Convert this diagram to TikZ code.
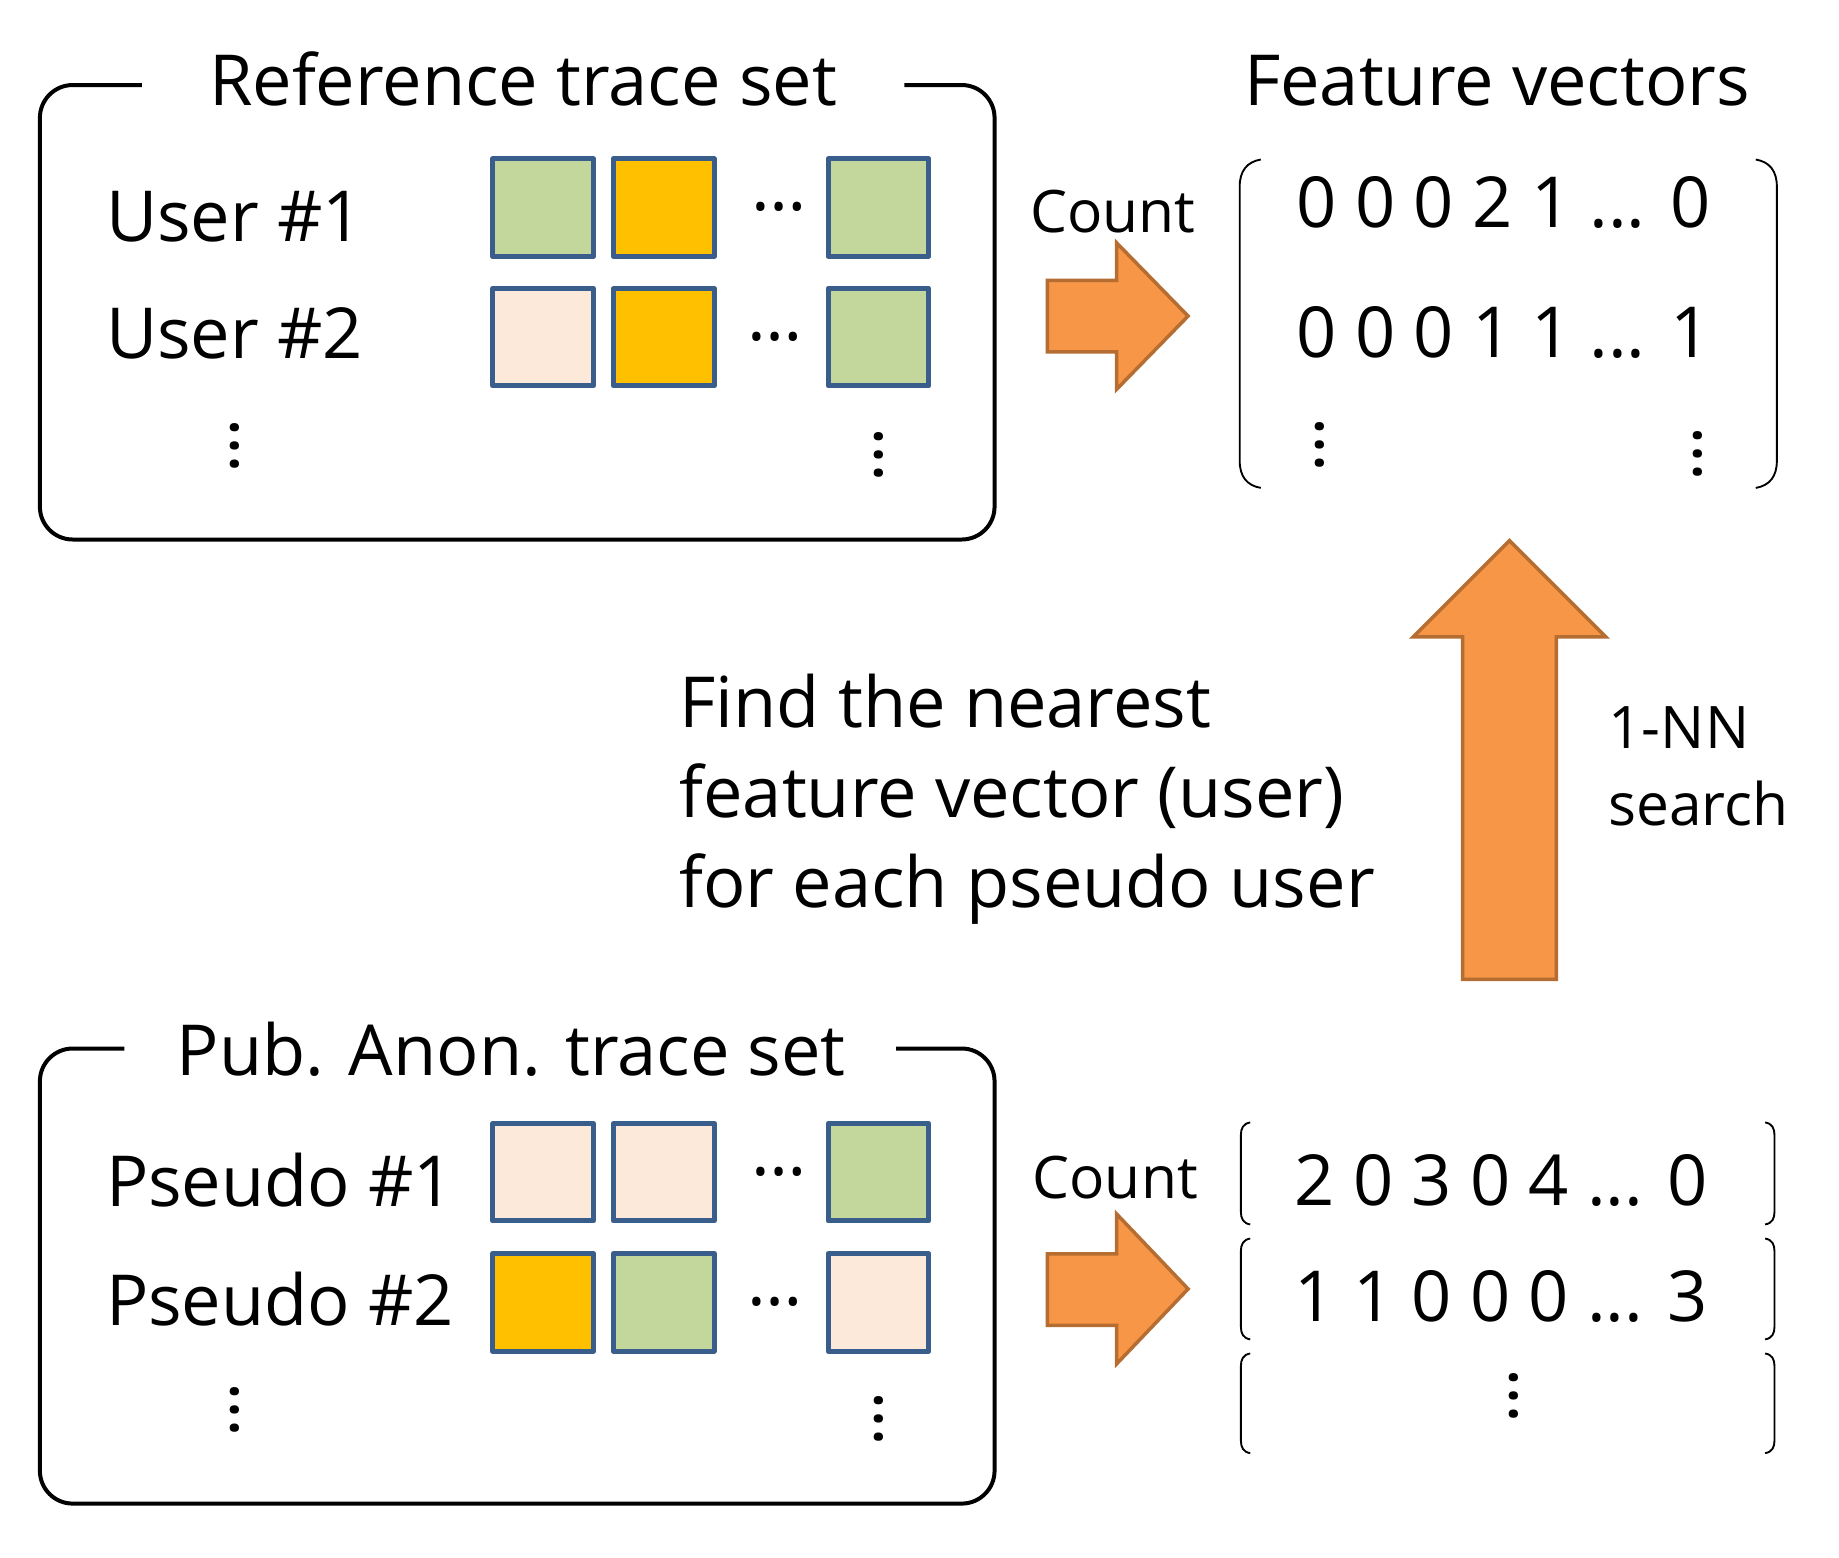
\documentclass[tikz,border=0pt]{standalone}
\usepackage{fontspec}
\setmainfont{Open Sans}
\definecolor{cgreen}{HTML}{C3D69B}
\definecolor{corange}{HTML}{FFC000}
\definecolor{cpeach}{HTML}{FDE9D9}
\definecolor{cblue}{HTML}{3A5E8C}
\definecolor{afill}{HTML}{F79646}
\definecolor{aedge}{HTML}{B66D31}
\begin{document}
\begin{tikzpicture}[x=0.5pt,y=-0.5pt,
  frame/.style={line width=1.7pt, rounded corners=14pt},
  cell/.style={draw=cblue, line width=2.15pt, line join=round, minimum width=43pt, minimum height=41.5pt, inner sep=0pt},
  blockarrow/.style={fill=afill, draw=aedge, line width=1.5pt, line join=miter},
  bigtxt/.style={font=\fontsize{30}{38}\selectfont, inner sep=0pt},
  smalltxt/.style={font=\fontsize{25}{31}\selectfont, inner sep=0pt},
  hdots/.style={font=\fontsize{30}{38}\selectfont, inner sep=0pt},
  vdots/.style={font=\fontsize{30}{38}\selectfont, inner sep=0pt, rotate=90},
  paren/.style={line width=0.8pt}]
\useasboundingbox (0,0) rectangle (1568,1328);

% ---------- top frame ----------
\draw[frame] (121,72.5) -- (34,72.5) -- (34,460) -- (848,460) -- (848,72.5) -- (771,72.5);
\node[bigtxt, anchor=base] (reftitle) at (446,90) {Reference trace set};
\node[bigtxt, anchor=base west] (user1) at (90,206) {User \#1};
\node[bigtxt, anchor=base west] (user2) at (90,306) {User \#2};

\node[cell, fill=cgreen]  (u1a) at (463,177) {};
\node[cell, fill=corange] (u1b) at (566,177) {};
\node[cell, fill=cgreen]  (u1c) at (749,177) {};
\node[cell, fill=cpeach]  (u2a) at (463,287.5) {};
\node[cell, fill=corange] (u2b) at (566,287.5) {};
\node[cell, fill=cgreen]  (u2c) at (749,287.5) {};
\node[hdots] (u1dots) at (664,176) {…};
\node[hdots] (u2dots) at (661,287) {…};
\node[vdots] (uvl) at (200,380) {…};
\node[vdots] (uvr) at (749.5,388) {…};

% ---------- feature vectors ----------
\node[bigtxt, anchor=base] (fvtitle) at (1276.5,90) {Feature vectors};
\node[smalltxt, anchor=base west] (count1) at (878,198) {Count};
\draw[blockarrow] (893,239) -- (952,239) -- (952,207) -- (1013,269.5) -- (952,332) -- (952,300) -- (893,300) -- cycle;
\draw[paren] (1075,136) .. controls (1063,138) and (1057,146) .. (1057,159) -- (1057,393) .. controls (1057,406) and (1063,414) .. (1075,416);
\draw[paren] (1497,136) .. controls (1509,138) and (1515,146) .. (1515,159) -- (1515,393) .. controls (1515,406) and (1509,414) .. (1497,416);
\node[bigtxt, anchor=base] (fv1) at (1282,194) {0 0 0 2 1 ... 0};
\node[bigtxt, anchor=base] (fv2) at (1282,304.5) {0 0 0 1 1 ... 1};
\node[vdots] (fvl) at (1125,379) {…};
\node[vdots] (fvr) at (1447.5,387) {…};

% ---------- middle ----------
\draw[blockarrow] (1287,461) -- (1369,543) -- (1327,543) -- (1327,835) -- (1247,835) -- (1247,543) -- (1205,543) -- cycle;
\node[smalltxt, anchor=base west] (nn1) at (1371,638) {1-NN};
\node[smalltxt, anchor=base west] (nn2) at (1371,704) {search};
\node[bigtxt, anchor=base west] (find1) at (579,620) {Find the nearest};
\node[bigtxt, anchor=base west] (find2) at (579,697) {feature vector (user)};
\node[bigtxt, anchor=base west] (find3) at (579,774) {for each pseudo user};

% ---------- bottom frame ----------
\draw[frame] (106,894) -- (34,894) -- (34,1282) -- (848,1282) -- (848,894) -- (764,894);
\node[bigtxt, anchor=base] (pubtitle) at (436,917) {Pub. Anon. trace set};
\node[bigtxt, anchor=base west] (ps1) at (90,1029) {Pseudo \#1};
\node[bigtxt, anchor=base west] (ps2) at (90,1130) {Pseudo \#2};

\node[cell, fill=cpeach]  (p1a) at (463,999.5) {};
\node[cell, fill=cpeach]  (p1b) at (566,999.5) {};
\node[cell, fill=cgreen]  (p1c) at (749,999.5) {};
\node[cell, fill=corange] (p2a) at (463,1110.5) {};
\node[cell, fill=cgreen]  (p2b) at (566,1110.5) {};
\node[cell, fill=cpeach]  (p2c) at (749,1110.5) {};
\node[hdots] (p1dots) at (664,999) {…};
\node[hdots] (p2dots) at (661,1110) {…};
\node[vdots] (pvl) at (200,1202) {…};
\node[vdots] (pvr) at (749.5,1210) {…};

% ---------- pseudo feature vectors ----------
\node[smalltxt, anchor=base west] (count2) at (880,1021.5) {Count};
\draw[blockarrow] (893,1069) -- (952,1069) -- (952,1035) -- (1013,1099) -- (952,1163) -- (952,1130) -- (893,1130) -- cycle;
\foreach \ya/\yb in {957/1044, 1056/1142, 1154/1239} {
  \draw[paren] (1066,\ya) .. controls (1060,\ya+1) and (1058,\ya+5) .. (1058,\ya+11) -- (1058,\yb-11) .. controls (1058,\yb-5) and (1060,\yb-1) .. (1066,\yb);
  \draw[paren] (1505,\ya) .. controls (1511,\ya+1) and (1513,\ya+5) .. (1513,\ya+11) -- (1513,\yb-11) .. controls (1513,\yb-5) and (1511,\yb-1) .. (1505,\yb);
}
\node[bigtxt, anchor=base] (pv1) at (1280,1028) {2 0 3 0 4 ... 0};
\node[bigtxt, anchor=base] (pv2) at (1280,1127) {1 1 0 0 0 ... 3};
\node[vdots] (pvd) at (1291,1190) {…};
\end{tikzpicture}
\end{document}
